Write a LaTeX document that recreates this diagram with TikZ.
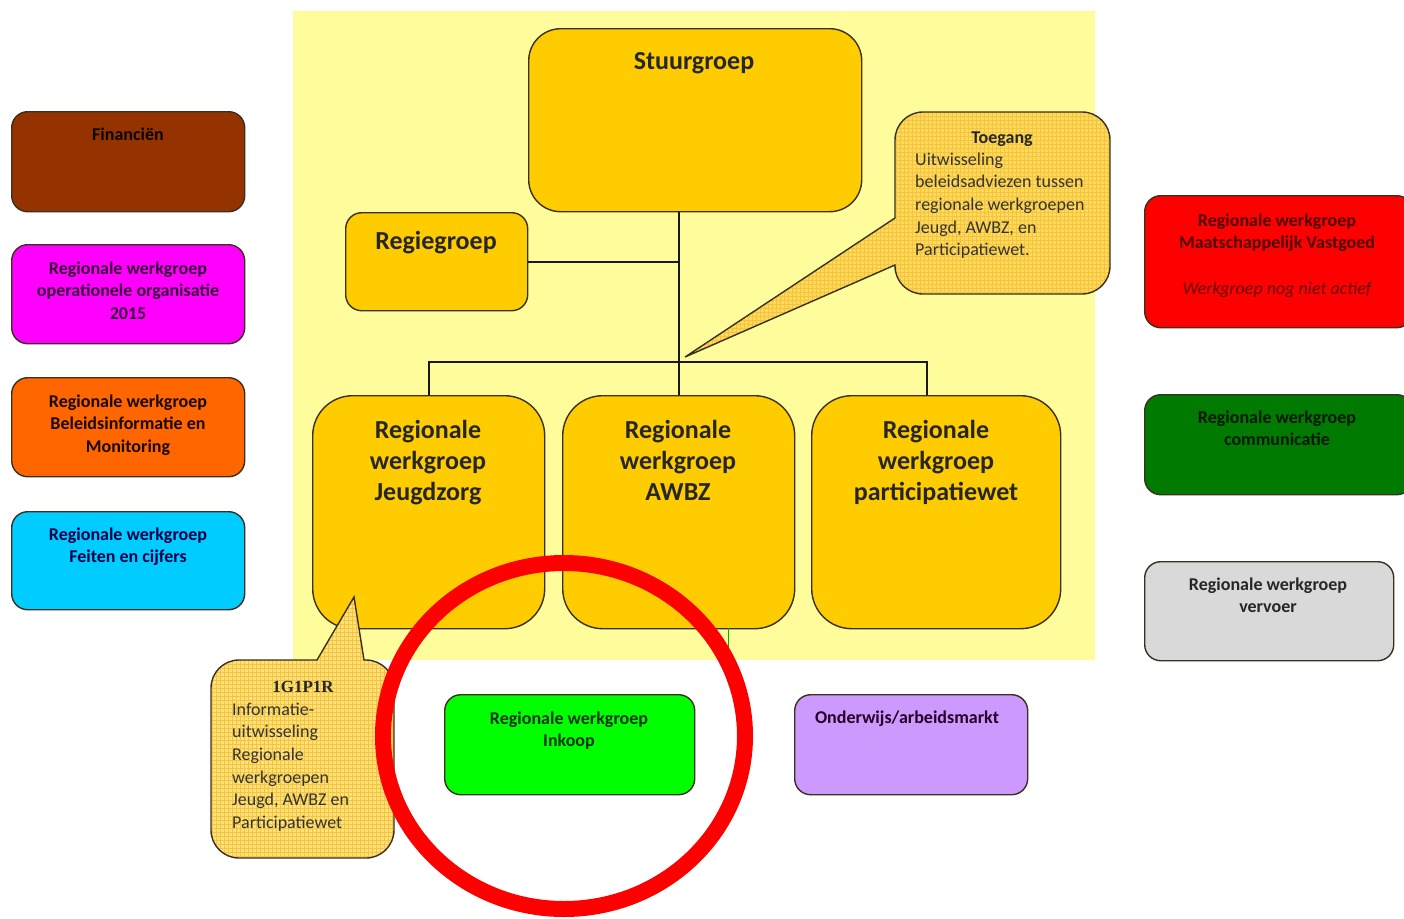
\documentclass[tikz,border=0pt]{standalone}
\usepackage{fontspec}
\usetikzlibrary{shapes.geometric}
\setmainfont{Carlito}
\newfontfamily\cambriabf{Liberation Serif}
\definecolor{bgyellow}{HTML}{FFFC9C}
\definecolor{gold}{HTML}{FFCC00}
\definecolor{brown}{HTML}{953300}
\definecolor{magenta}{HTML}{FF00FF}
\definecolor{orange}{HTML}{FF6600}
\definecolor{cyan}{HTML}{00CCFF}
\definecolor{redbox}{HTML}{FF0000}
\definecolor{dkgreen}{HTML}{007A00}
\definecolor{grey}{HTML}{D9D9D9}
\definecolor{lime}{HTML}{00FF00}
\definecolor{lavender}{HTML}{CC99FF}
\definecolor{callfill}{HTML}{FFD95A}
\definecolor{callgrid}{HTML}{F2C440}
\definecolor{edge}{HTML}{3A3020}
\definecolor{ringred}{HTML}{FF0000}
\tikzset{
  grp/.style={draw=edge, line width=1.4pt, rounded corners=16pt, inner sep=0pt, anchor=north west},
  biggrp/.style={grp, fill=gold, rounded corners=40pt},
  smalltxt/.style={anchor=base, align=center, inner sep=0pt, font=\bfseries\fontsize{18}{22.5}\selectfont},
  bigtxt/.style={anchor=base, align=center, inner sep=0pt, font=\bfseries\fontsize{26}{31}\selectfont, text=black!85},
  calltxt/.style={anchor=base west, align=left, inner sep=0pt, font=\fontsize{18}{22.7}\selectfont, text=black!80},
  callout/.style={draw=edge, line width=1.4pt},
  conn/.style={draw=black!90, line width=1.6pt},
}
\newcommand\toegangshape{(895,218) -- (685,357) -- (895,265) [rounded corners=28pt] -- (895,294) -- (1110,294) -- (1110,112) -- (895,112) [sharp corners] -- cycle}
\newcommand\igpshape{(317,660) -- (354,597) -- (364,660) [rounded corners=28pt] -- (394,660) -- (394,858) -- (211,858) -- (211,660) [sharp corners] -- cycle}
\begin{document}
\begin{tikzpicture}[x=1pt,y=-1pt]
\useasboundingbox (0,0) rectangle (1404,918);
\fill[white] (0,0) rectangle (1404,918);
% background panel
\fill[bgyellow] (293,11) rectangle (1095,660);

% central groups
\node[biggrp, rounded corners=32pt, minimum width=333pt, minimum height=183pt] (stuur) at (528,28) {};
\node[bigtxt] (stuur-t) at (694,69) {Stuurgroep};
\node[grp, fill=gold, minimum width=182pt, minimum height=98pt] (regie) at (345,212) {};
\node[bigtxt] (regie-t) at (436,249) {Regiegroep};

\node[biggrp, minimum width=232pt, minimum height=233pt] (jeugd) at (312,395) {};
\node[bigtxt] (jeugd-t) at (428,500) {Regionale\\werkgroep\\Jeugdzorg};
\node[biggrp, minimum width=232pt, minimum height=233pt] (awbz) at (562,395) {};
\node[bigtxt] (awbz-t) at (678,500) {Regionale\\werkgroep\\AWBZ};
\node[biggrp, minimum width=249pt, minimum height=233pt] (part) at (811,395) {};
\node[bigtxt] (part-t) at (936,500) {Regionale\\werkgroep\\participatiewet};

% connectors
\coordinate (hub) at (awbz.north |- 0,362);
\coordinate (stj) at (awbz.north |- stuur.south);
\coordinate (regj) at (awbz.north |- regie.east);
\coordinate (ptop) at (927,395);
\draw[conn] (stj) -- (awbz.north);
\draw[conn] (regie.east) -- (regj);
\draw[conn] (jeugd.north) -- (jeugd.north |- hub) -- (ptop |- hub) -- (ptop);
\coordinate (gtop) at (728,628);
\coordinate (gbot) at (728,660);
\draw[green!70!black, line width=0.6pt] (gtop) -- (gbot);

% Toegang callout
\begin{scope}
  \clip \toegangshape;
  \fill[callfill] (680,100) rectangle (1120,360);
  \draw[callgrid, line width=0.3pt, step=4pt] (680,100) grid (1120,360);
\end{scope}
\draw[callout] \toegangshape;
\node[anchor=base, inner sep=0pt, font=\bfseries\fontsize{18}{22.7}\selectfont, text=black!85] (toeg-h) at (1002,143) {Toegang};
\node[calltxt] (toeg-t) at (915,255.8) {Uitwisseling\\beleidsadviezen tussen\\regionale werkgroepen\\Jeugd, AWBZ, en\\Participatiewet.};

% 1G1P1R callout
\begin{scope}
  \clip \igpshape;
  \fill[callfill!80!white] (200,590) rectangle (400,870);
  \draw[callgrid, line width=0.3pt, step=4pt] (200,590) grid (400,870);
\end{scope}
\draw[callout] \igpshape;
\node[anchor=base, inner sep=0pt, font=\cambriabf\bfseries\fontsize{17}{22.7}\selectfont, text=black!85] (igp-h) at (303,692) {1G1P1R};
\node[calltxt] (igp-t) at (232,828.5) {Informatie-\\uitwisseling\\Regionale\\werkgroepen\\Jeugd, AWBZ en\\Participatiewet};

% left column
\node[grp, fill=brown, minimum width=233pt, minimum height=100pt] (fin) at (11,111) {};
\node[smalltxt, text=black!92!brown] (fin-t) at (128,140) {Financiën};
\node[grp, fill=magenta, minimum width=233pt, minimum height=99pt] (ops) at (11,244) {};
\node[smalltxt, text=violet!45!black] (ops-t) at (128,319) {Regionale werkgroep\\operationele organisatie\\2015};
\node[grp, fill=orange, minimum width=233pt, minimum height=99pt] (bel) at (11,377) {};
\node[smalltxt, text=black!90!orange] (bel-t) at (128,452) {Regionale werkgroep\\Beleidsinformatie en\\Monitoring};
\node[grp, fill=cyan, minimum width=233pt, minimum height=98pt] (feit) at (11,511) {};
\node[smalltxt, text=blue!30!black] (feit-t) at (128,562.5) {Regionale werkgroep\\Feiten en cijfers};

% right column
\node[grp, fill=redbox, minimum width=268pt, minimum height=132pt] (vast) at (1144,195) {};
\node[smalltxt, text=red!30!black] (vast-t) at (1277,248.5) {Regionale werkgroep\\Maatschappelijk Vastgoed};
\node[anchor=base, inner sep=0pt, font=\itshape\fontsize{18}{22.5}\selectfont, text=red!40!black] (vast-n) at (1277,294) {Werkgroep nog niet actief};
\node[grp, fill=dkgreen, minimum width=268pt, minimum height=100pt] (comm) at (1144,394) {};
\node[smalltxt, text=green!10!black] (comm-t) at (1277,445.5) {Regionale werkgroep\\communicatie};
\node[grp, fill=grey, minimum width=249pt, minimum height=99pt] (verv) at (1144,561) {};
\node[smalltxt, text=black!85] (verv-t) at (1268,612.5) {Regionale werkgroep\\vervoer};

% bottom row
\node[grp, fill=lime, minimum width=250pt, minimum height=100pt] (ink) at (444,694) {};
\node[smalltxt, text=green!20!black] (ink-t) at (569,746.5) {Regionale werkgroep\\Inkoop};
\node[grp, fill=lavender, minimum width=233pt, minimum height=100pt] (ond) at (794,694) {};
\node[smalltxt, text=violet!30!black] (ond-t) at (907,723) {Onderwijs/arbeidsmarkt};

% red ring
\node[draw=ringred, line width=16pt, ellipse, minimum width=362pt, minimum height=346pt, inner sep=0pt] (ring) at (564,736) {};
\end{tikzpicture}
\end{document}
